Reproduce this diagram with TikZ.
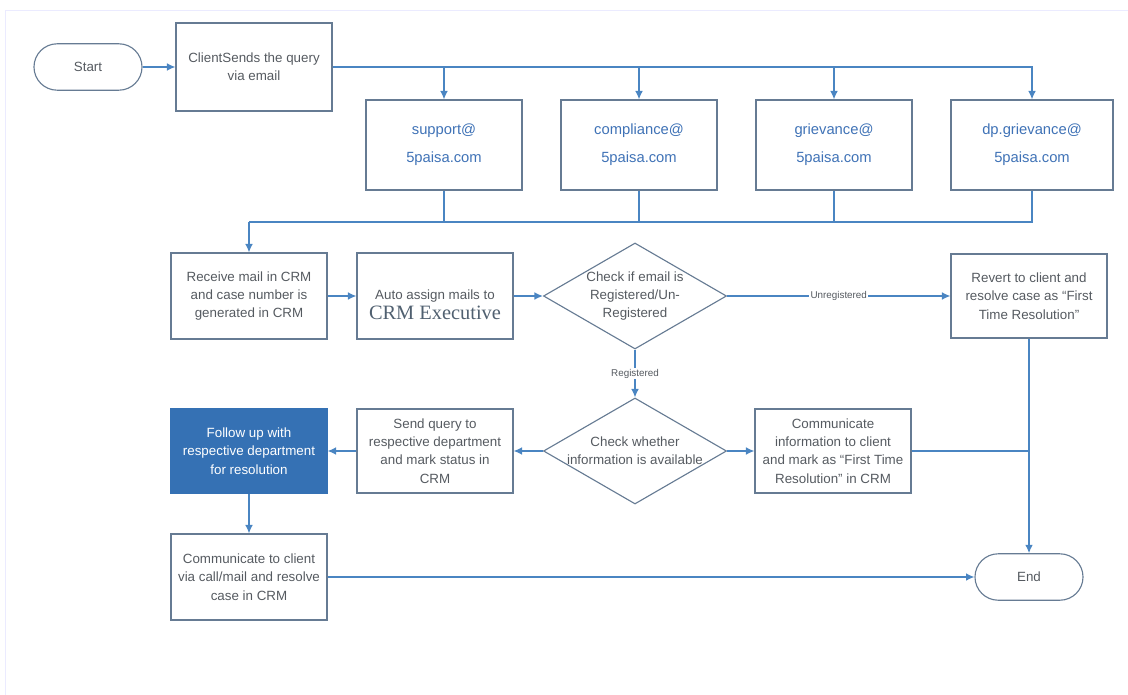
\documentclass[tikz,border=0pt]{standalone}
\usepackage{fontspec}
\setmainfont{Liberation Sans}
\newfontfamily\execfont{Liberation Serif}
\usepackage{xcolor}
\usepackage{tikz}
\usetikzlibrary{shapes,arrows,arrows.meta,positioning}
\tikzstyle{block} = [rectangle, draw=boxline, line width=0.8pt, align=center, text=textgray, minimum width=3.9cm, minimum height=2.15cm, font=\fontsize{9.5}{13}\selectfont]
\tikzstyle{mailbox} = [block, minimum height=2.25cm, text=mailblue, font=\fontsize{10.5}{20}\selectfont]
\tikzstyle{decision} = [diamond, draw=boxline, line width=0.8pt, aspect=1.7, inner sep=0pt, minimum width=4.575cm, minimum height=2.65cm]
\tikzstyle{terminal} = [rectangle, draw=boxline, line width=0.8pt, rounded corners=0.58cm, text=textgray, minimum width=2.7cm, minimum height=1.16cm, font=\fontsize{9.5}{12}\selectfont]
\tikzstyle{line} = [draw=flowblue, line width=1pt]
\tikzstyle{tag} = [fill=white, inner sep=1pt, text=textgray, font=\fontsize{7}{8}\selectfont]
\definecolor{flowblue}{HTML}{4A85C2}
\definecolor{boxline}{HTML}{667B93}
\definecolor{textgray}{HTML}{555A60}
\definecolor{mailblue}{HTML}{3F72B6}
\definecolor{followfill}{HTML}{3571B4}
\definecolor{execgray}{HTML}{506070}

\begin{document}
\begin{tikzpicture}[x=0.025cm, y=-0.025cm, node distance = 4cm, >={Latex[length=6pt,width=5.5pt]}]
  \useasboundingbox (0,0) rectangle (1128,695);
  \draw[blue!8] (5,695) -- (5,10) -- (1128,10);

  % first row
  \node[terminal] (start) at (88,67) {Start};
  \node[block, minimum height=2.2cm] (client) at (254,67) {ClientSends the query\\via email};
  \node[mailbox] (support) at (444,145) {support@\\5paisa.com};
  \node[mailbox] (compliance) at (639,145) {compliance@\\5paisa.com};
  \node[mailbox] (grievance) at (834,145) {grievance@\\5paisa.com};
  \node[mailbox, minimum width=4.05cm] (dpmail) at (1032,145) {dp.grievance@\\5paisa.com};
  \coordinate (merge) at (249,222);

  % second row
  \node[block] (receive) at (249,296) {Receive mail in CRM\\and case number is\\generated in CRM};
  \node[block] (auto) at (435,296) {Auto assign mails to\vphantom{g}};
  \node[anchor=north, text=execgray, inner sep=0pt, font=\execfont\fontsize{14.5}{16}\selectfont] (exec) at ([yshift=-7pt]auto.center) {CRM Executive};
  \node[decision, label={[align=center, text=textgray, font=\fontsize{9.5}{13}\selectfont]center:{Check if email is\\Registered/Un-\\Registered}}] (checkreg) at (635,296) {};
  \node[block, minimum height=2.1cm] (revert) at (1029,296) {Revert to client and\\resolve case as ``First\\Time Resolution''};

  % third row
  \node[decision, label={[align=center, text=textgray, font=\fontsize{9.5}{13}\selectfont]center:{Check whether\\information is available}}] (checkinfo) at (635,451) {};
  \node[block, minimum height=2.1cm] (sendq) at (435,451) {Send query to\\respective department\\and mark status in\\CRM};
  \node[block, minimum height=2.1cm, fill=followfill, draw=followfill, text=white] (follow) at (249,451) {Follow up with\\respective department\\for resolution};
  \node[block, minimum height=2.1cm] (inform) at (833,451) {Communicate\\information to client\\and mark as ``First Time\\Resolution'' in CRM};

  % last row
  \node[block] (commclient) at (249,577) {Communicate to client\\via call/mail and resolve\\case in CRM};
  \node[terminal] (end) at (1029,577) {End};

  \draw[->, line] (start) -- (client);
  \draw[->, line] (client.east) -| (support.north);
  \draw[->, line] (client.east) -| (compliance.north);
  \draw[->, line] (client.east) -| (grievance.north);
  \draw[->, line] (client.east) -| (dpmail.north);
  \draw[line] (support.south) |- (merge);
  \draw[line] (compliance.south) |- (merge);
  \draw[line] (grievance.south) |- (merge);
  \draw[line] (dpmail.south) |- (merge);
  \draw[->, line] (merge) -- (receive.north);
  \draw[->, line] (receive) -- (auto);
  \draw[->, line] (auto) -- (checkreg);
  \draw[->, line] (checkreg) -- node[tag] {Unregistered} (revert);
  \draw[->, line] (checkreg) -- node[tag] {Registered} (checkinfo);
  \draw[->, line] (checkinfo) -- (sendq);
  \draw[->, line] (sendq) -- (follow);
  \draw[->, line] (checkinfo) -- (inform);
  \draw[line] (inform.east) -- (inform.east -| end.north);
  \draw[->, line] (revert) -- (end);
  \draw[->, line] (follow) -- (commclient);
  \draw[->, line] (commclient) -- (end);
\end{tikzpicture}
\end{document}
